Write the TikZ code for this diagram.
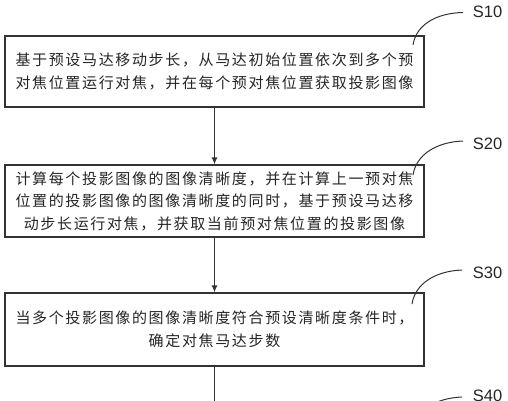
\documentclass[tikz,border=0pt]{standalone}
\usepackage{fontspec}
\newfontfamily\cjk[LetterSpace=11]{Noto Sans CJK SC}
\newfontfamily\labfont{Liberation Sans}
\usetikzlibrary{arrows.meta}
\begin{document}
\begin{tikzpicture}[x=1pt,y=-1pt,
  stepbox/.style={draw=black!80, line width=1.2pt, minimum width=419pt, inner sep=0pt, align=center,
    font=\cjk\fontsize{15}{22.5}\selectfont, text=black!85},
  arr/.style={draw=black!80, line width=1.2pt, -{Latex[length=7pt,width=6pt]}},
  lead/.style={draw=black!80, line width=1pt},
  steplabel/.style={font=\labfont\fontsize{16.5}{18}\selectfont, text=black!85, inner sep=0pt}]
\clip (0,0) rectangle (508,400);
\fill[white] (0,0) rectangle (508,400);
\node[stepbox, minimum height=71pt] (b1) at (214.5,71.5) {基于预设马达移动步长，从马达初始位置依次到多个预\\对焦位置运行对焦，并在每个预对焦位置获取投影图像};
\node[stepbox, minimum height=72pt] (b2) at (214.5,201) {计算每个投影图像的图像清晰度，并在计算上一预对焦\\位置的投影图像的图像清晰度的同时，基于预设马达移\\动步长运行对焦，并获取当前预对焦位置的投影图像};
\node[stepbox, minimum height=73pt] (b3) at (214.5,329.5) {当多个投影图像的图像清晰度符合预设清晰度条件时，\\确定对焦马达步数};
\coordinate (end) at (214.5,402);
\draw[arr] (b1.south) -- (b2.north);
\draw[arr] (b2.south) -- (b3.north);
\draw[draw=black!80, line width=1.2pt] (b3.south) -- (end);
\node[steplabel] (s10) at (487.5,12) {S10};
\node[steplabel] (s20) at (487.5,144) {S20};
\node[steplabel] (s30) at (487.5,273) {S30};
\node[steplabel] (s40) at (487.5,396) {S40};
\coordinate (a1) at (413,45);   \coordinate (e1) at (463,12.5);
\coordinate (a2) at (413,175);  \coordinate (e2) at (463,141);
\coordinate (a3) at (412,304);  \coordinate (e3) at (462,270);
\coordinate (a4) at (413,430);  \coordinate (e4) at (462,397);
\draw[lead] (a1) .. controls (416,25) and (436,13) .. (e1);
\draw[lead] (a2) .. controls (416,155) and (436,142) .. (e2);
\draw[lead] (a3) .. controls (415,284) and (435,271) .. (e3);
\draw[lead] (a4) .. controls (416,410) and (436,398) .. (e4);
\end{tikzpicture}
\end{document}
